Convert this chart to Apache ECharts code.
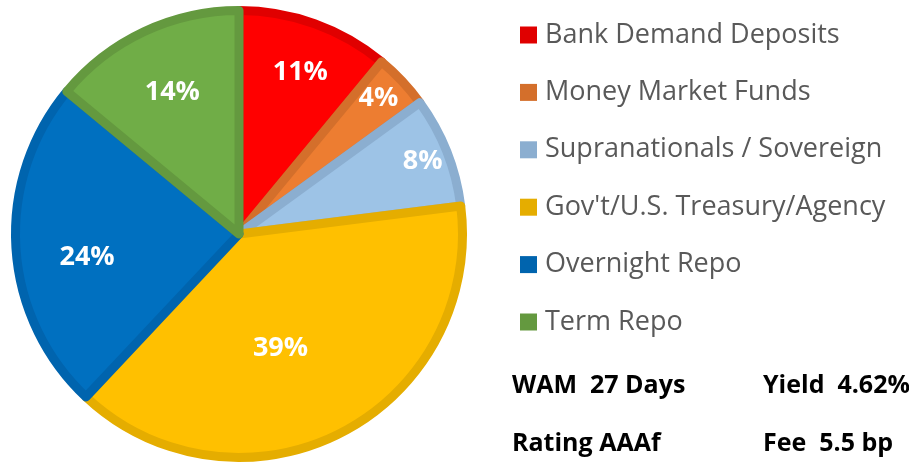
<!DOCTYPE html>
<html>
<head>
<meta charset="utf-8">
<script src="https://cdn.jsdelivr.net/npm/echarts@6/dist/echarts.min.js"></script>
<style>
  html, body { margin: 0; padding: 0; background: #fff; }
  #chart { width: 909px; height: 464px; }
</style>
</head>
<body>
<div id="chart"></div>
<script>
// data
const categories = ['Bank Demand Deposits', 'Money Market Funds', 'Supranationals / Sovereign', "Gov't/U.S. Treasury/Agency", 'Overnight Repo', 'Term Repo']
const shares = [11, 4, 8, 39, 24, 14]
const fillColors = ['#FF0000', '#ED7D31', '#9DC3E6', '#FFC000', '#0070C0', '#70AD47']
const edgeColors = ['#E00000', '#D46F2B', '#8BAED0', '#E5AD00', '#0064AE', '#64993F']
const statsRow1 = ['WAM  27 Days', 'Yield  4.62%']
const statsRow2 = ['Rating AAAf', 'Fee  5.5 bp']

// where Excel put the % labels: part of radius, and turn (deg) off the slice middle
const labelRadius = [0.757, 0.853, 0.866, 0.532, 0.674, 0.687]
const labelTurn = [1, -1, 0, 7, -5, 0]

const cx = 239, cy = 234, R = 228, edge = 9

const chart = echarts.init(document.getElementById('chart'))

// middle angle of each slice, clockwise from 12 o'clock
const total = shares.reduce((a, b) => a + b, 0)
let acc = 0
const midAngle = shares.map(v => {
  const m = (acc + v / 2) / total * 360
  acc += v
  return m
})

const statText = (text, x, y) => ({
  type: 'text',
  x,
  y,
  style: {
    text,
    fill: '#000',
    font: 'bold 25px "Open Sans", sans-serif',
    verticalAlign: 'middle'
  }
})

chart.setOption({
  animation: false,
  legend: {
    orient: 'vertical',
    left: 520,
    top: 21,
    padding: 0,
    itemWidth: 17,
    itemHeight: 17,
    itemGap: 29.4,
    icon: 'rect',
    selectedMode: false,
    data: categories.map((name, i) => ({
      name,
      itemStyle: { color: edgeColors[i], borderWidth: 0 }
    })),
    textStyle: {
      color: '#595959',
      fontSize: 27,
      lineHeight: 28,
      fontFamily: '"Open Sans", sans-serif',
      padding: [0, 0, 0, 3]
    }
  },
  graphic: [
    statText(statsRow1[0], 512, 386),
    statText(statsRow1[1], 763, 386),
    statText(statsRow2[0], 512, 444),
    statText(statsRow2[1], 763, 444)
  ],
  series: [
    {
      type: 'pie',
      center: [cx, cy],
      radius: [0, R - edge / 2],
      startAngle: 90,
      clockwise: true,
      data: categories.map((name, i) => ({
        name,
        value: shares[i],
        itemStyle: {
          color: fillColors[i],
          borderColor: edgeColors[i],
          borderWidth: edge,
          borderJoin: 'round'
        }
      })),
      label: {
        show: true,
        position: 'inside',
        formatter: '{c}%',
        color: '#fff',
        fontSize: 27,
        fontWeight: 'bold',
        fontFamily: '"Open Sans", sans-serif',
        align: 'center',
        verticalAlign: 'middle'
      },
      labelLine: { show: false },
      labelLayout: (params) => {
        const i = params.dataIndex
        const a = (midAngle[i] + labelTurn[i]) * Math.PI / 180
        const d = labelRadius[i] * R
        return { x: cx + d * Math.sin(a), y: cy - d * Math.cos(a) }
      },
      emphasis: { disabled: true }
    }
  ]
})
</script>
</body>
</html>
